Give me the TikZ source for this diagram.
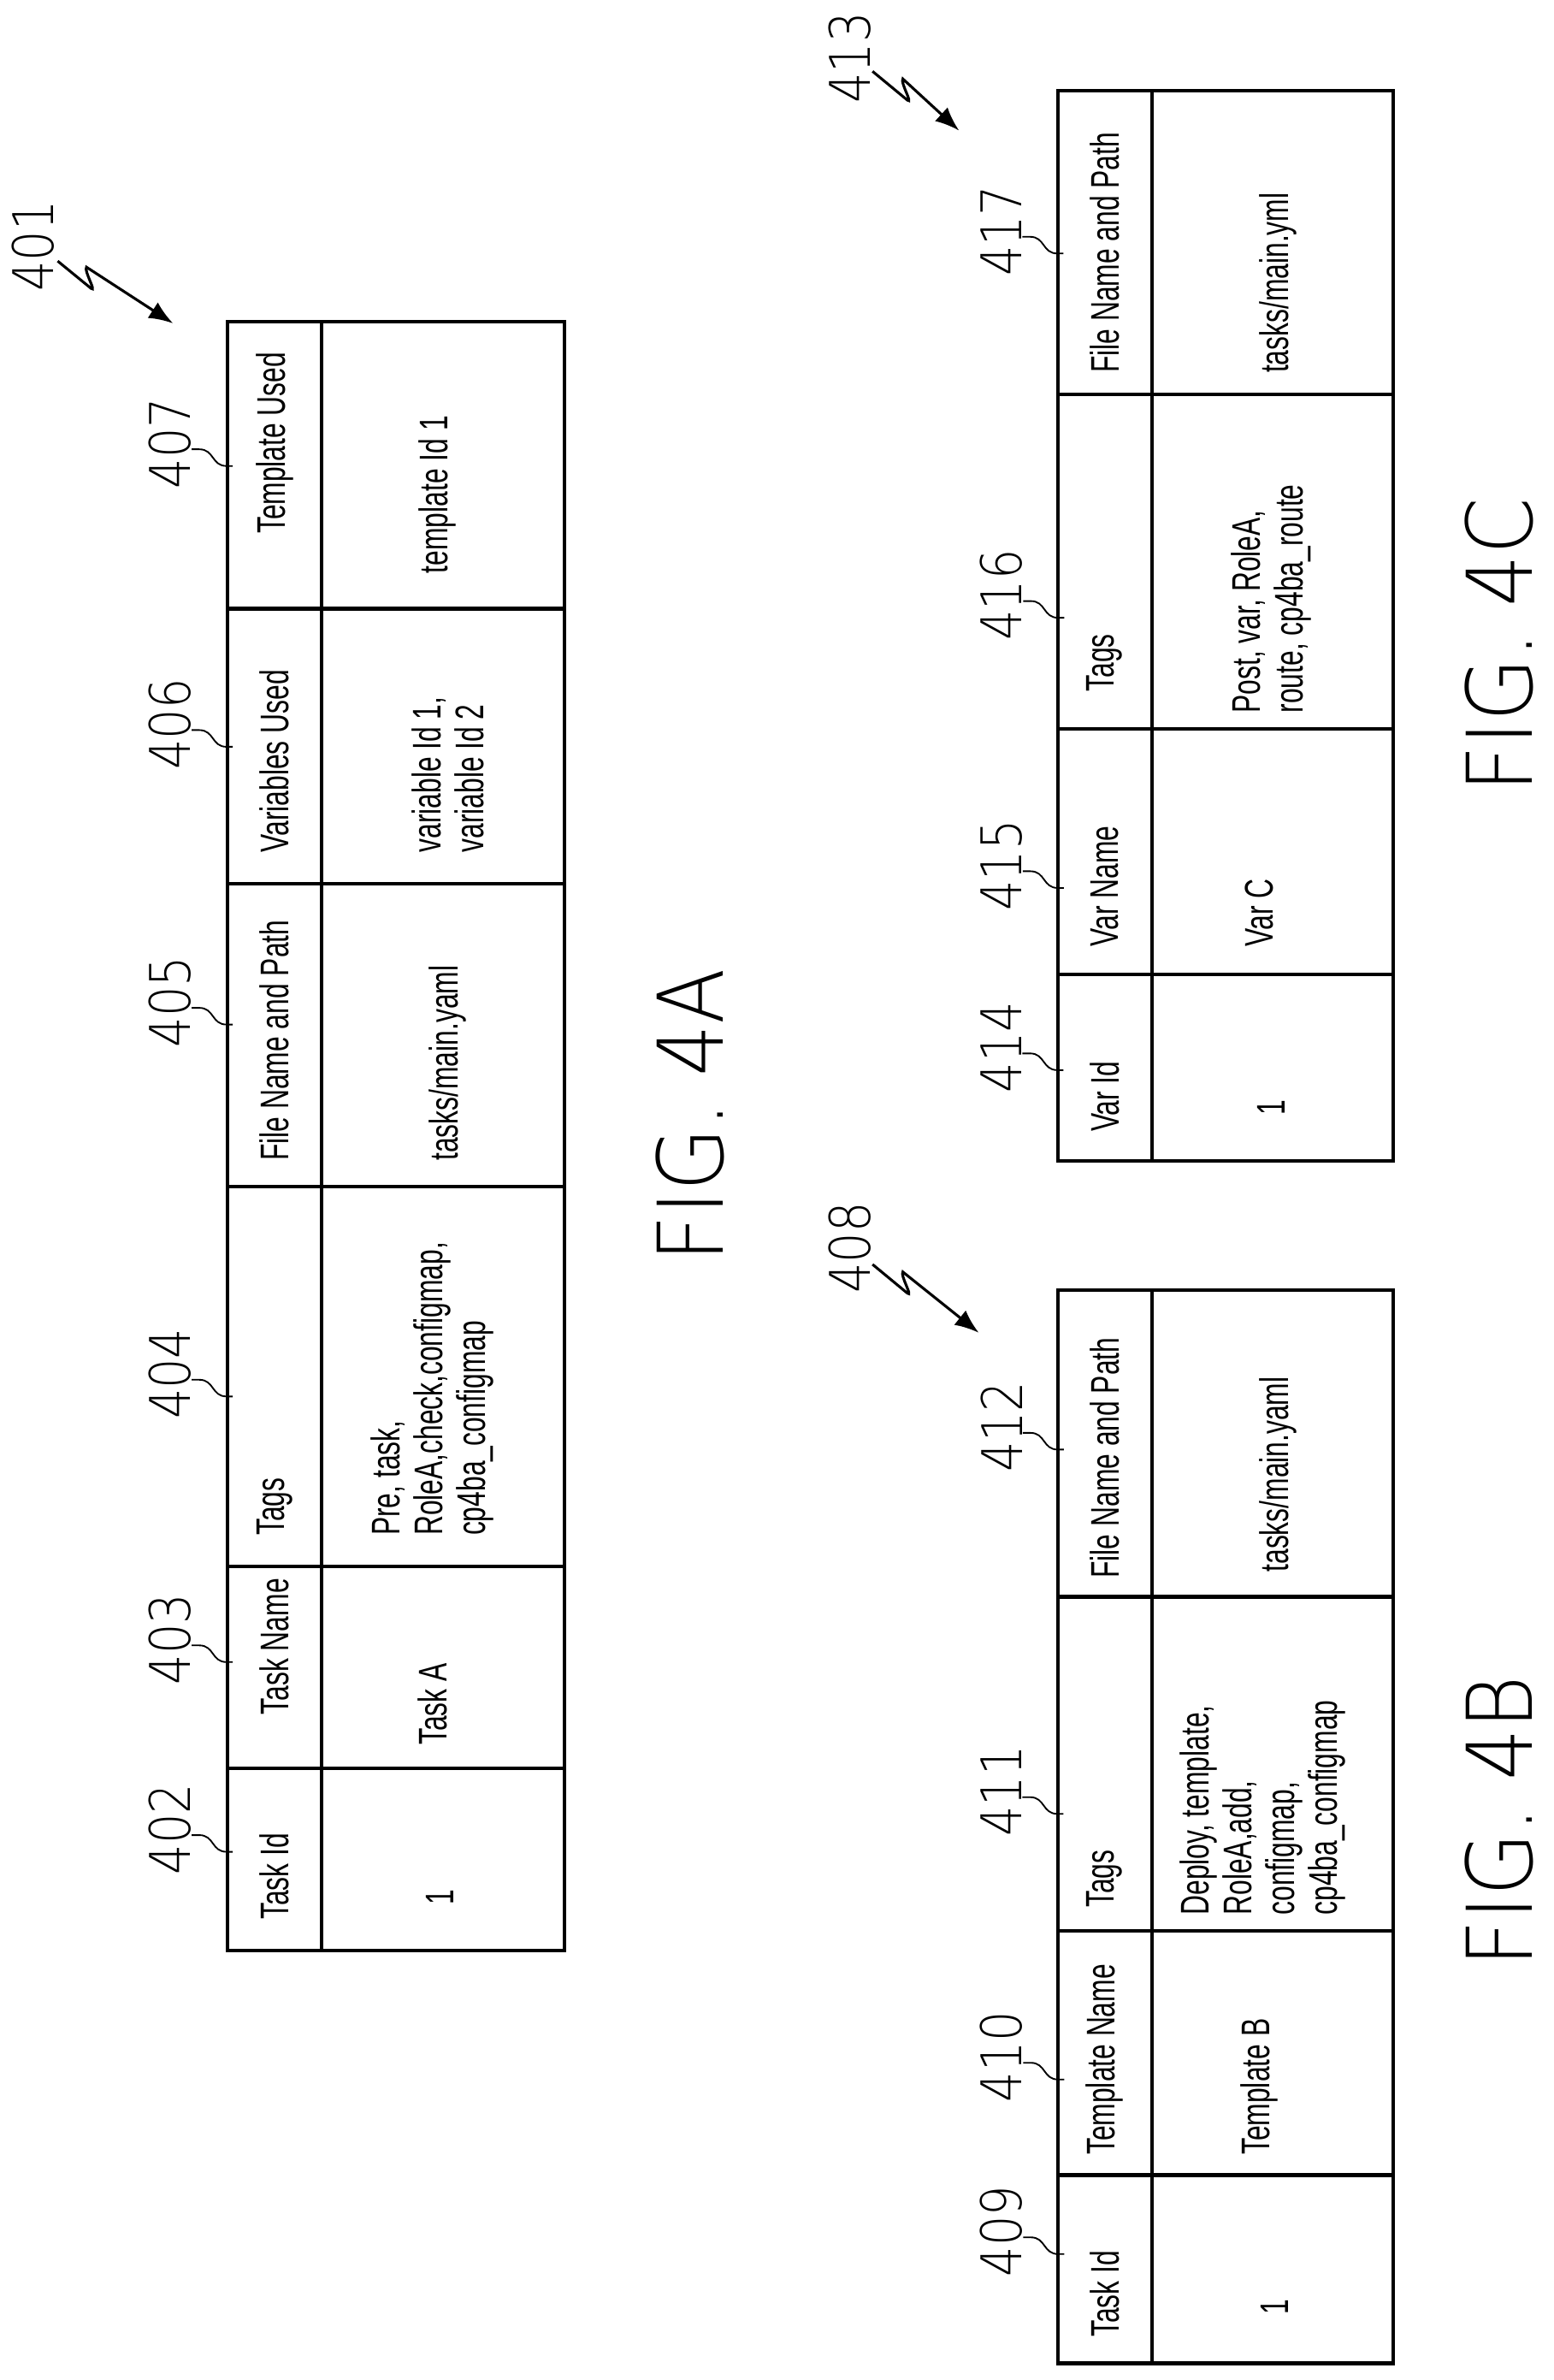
\documentclass[tikz,border=0pt]{standalone}
\usepackage{fontspec}
\setmainfont[FakeStretch=0.68]{Liberation Sans}
\newfontfamily\figfont[FakeStretch=0.9]{DejaVu Sans ExtraLight}
\newfontfamily\reffont[FakeStretch=0.85]{DejaVu Sans ExtraLight}
\usetikzlibrary{arrows.meta}
\tikzset{
	grid/.style={line width=1.3pt},
	cell/.style={rotate=90, anchor=west, inner sep=0pt, align=left, font=\fontsize{15}{16}\selectfont},
	ref/.style={rotate=90, inner sep=0pt, font=\reffont\fontsize{21}{22}\selectfont},
	fig/.style={rotate=90, inner sep=0pt, font=\figfont\fontsize{34}{34}\selectfont},
	lead/.style={line width=0.6pt},
	zig/.style={line width=1pt, -{Latex[length=9pt,width=7pt]}},
	>=latex
}
% leader from a reference numeral to the table edge
\newcommand{\leader}[2]{\draw[lead] (#1) ++(0,4) -- ++(5,0) .. controls +(10,0) and +(-10,0) .. ++(18,11) -- ++(4,0) coordinate (#2);}

\begin{document}
\begin{tikzpicture}[x=0.02cm, y=-0.02cm]
	\useasboundingbox (0,0) rectangle (1024,1568);

	% FIG. 4A
	\draw[grid] (150,212) rectangle (372,1285);
	\draw[grid] (212,212) -- (212,1285);
	\foreach \y in {401,582,782,1032,1165}
	{
		\draw[grid] (150,\y) -- (372,\y);
	}
	\node[cell] (h407) at (181,352) {Template Used};
	\node[cell] (h406) at (181,562) {Variables Used};
	\node[cell] (h405) at (181,765) {File Name and Path};
	\node[cell] (h404) at (181,1012) {Tags};
	\node[cell] (h403) at (181,1130) {Task Name};
	\node[cell] (h402) at (181,1265) {Task Id};
	\node[cell] (d407) at (288,378) {template Id 1};
	\node[cell] (d406) at (295,562) {variable Id 1,\\variable Id 2};
	\node[cell] (d405) at (295,765) {tasks/main.yaml};
	\node[cell] (d404) at (285,1012) {Pre, task,\\RoleA,check,configmap,\\cp4ba\_configmap};
	\node[cell] (d403) at (285,1150) {Task A};
	\node[cell] (d402) at (290,1255) {1};

	\foreach \n/\y in {407/292,406/477,405/660,404/905,403/1080,402/1205}
	{
		\node[ref] (r\n) at (112,\y) {\n};
		\leader{r\n.south}{t\n}
	}
	\node[ref] (r401) at (22,162) {401};
	\draw[zig] (38,172) -- (60,190) .. controls (64,193) and (55,178) .. (57,176) -- (114,213);
	\node[fig] (f4a) at (455,735) {FIG. 4A};

	% FIG. 4B
	\draw[grid] (697,850) rectangle (918,1557);
	\draw[grid] (759,850) -- (759,1557);
	\foreach \y in {1052,1272,1433}
	{
		\draw[grid] (697,\y) -- (918,\y);
	}
	\node[cell] (h412) at (728,1040) {File Name and Path};
	\node[cell] (h411) at (728,1257) {Tags};
	\node[cell] (h410) at (728,1420) {Template Name};
	\node[cell] (h409) at (728,1540) {Task Id};
	\node[cell] (d412) at (842,1036) {tasks/main.yaml};
	\node[cell] (d411) at (832,1262) {Deploy, template,\\RoleA,add,\\configmap,\\cp4ba\_configmap};
	\node[cell] (d410) at (830,1420) {Template B};
	\node[cell] (d409) at (840,1525) {1};
	\foreach \n/\y in {412/940,411/1180,410/1355,409/1470}
	{
		\node[ref] (r\n) at (660,\y) {\n};
		\leader{r\n.south}{t\n}
	}
	\node[ref] (r408) at (560,822) {408};
	\draw[zig] (575,833) -- (598,852) .. controls (602,855) and (593,840) .. (595,838) -- (645,878);
	\node[fig] (f4b) at (988,1200) {FIG. 4B};

	% FIG. 4C
	\draw[grid] (697,60) rectangle (918,765);
	\draw[grid] (759,60) -- (759,765);
	\foreach \y in {260,480,642}
	{
		\draw[grid] (697,\y) -- (918,\y);
	}
	\node[cell] (h417) at (728,246) {File Name and Path};
	\node[cell] (h416) at (728,456) {Tags};
	\node[cell] (h415) at (728,624) {Var Name};
	\node[cell] (h414) at (728,746) {Var Id};
	\node[cell] (d417) at (842,246) {tasks/main.yml};
	\node[cell] (d416) at (838,470) {Post, var, RoleA,\\route, cp4ba\_route};
	\node[cell] (d415) at (830,624) {Var C};
	\node[cell] (d414) at (838,735) {1};
	\foreach \n/\y in {417/152,416/392,415/570,414/690}
	{
		\node[ref] (r\n) at (660,\y) {\n};
		\leader{r\n.south}{t\n}
	}
	\node[ref] (r413) at (560,38) {413};
	\draw[zig] (575,47) -- (598,66) .. controls (602,69) and (593,54) .. (595,52) -- (632,86);
	\node[fig] (f4c) at (988,425) {FIG. 4C};
\end{tikzpicture}
\end{document}
